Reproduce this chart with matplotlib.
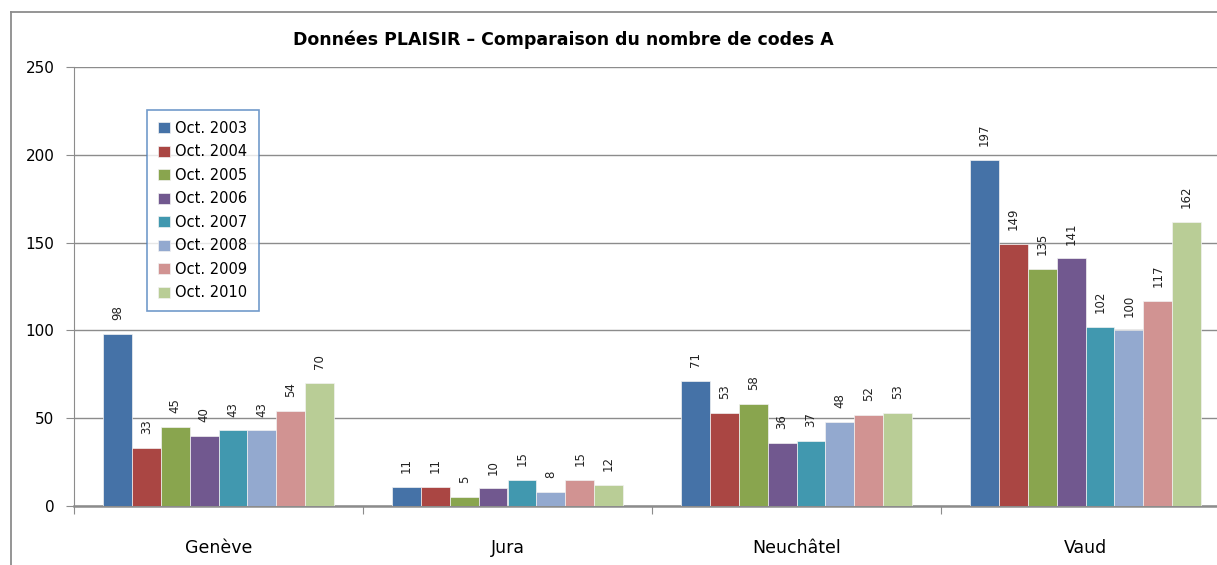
import numpy as np
import matplotlib
matplotlib.use("Agg")
import matplotlib.pyplot as plt
from matplotlib.lines import Line2D

# data
cantons = ["Genève", "Jura", "Neuchâtel", "Vaud"]
years = ["Oct. 2003", "Oct. 2004", "Oct. 2005", "Oct. 2006",
         "Oct. 2007", "Oct. 2008", "Oct. 2009", "Oct. 2010"]
oct_2003 = [98, 11, 71, 197]
oct_2004 = [33, 11, 53, 149]
oct_2005 = [45, 5, 58, 135]
oct_2006 = [40, 10, 36, 141]
oct_2007 = [43, 15, 37, 102]
oct_2008 = [43, 8, 48, 100]
oct_2009 = [54, 15, 52, 117]
oct_2010 = [70, 12, 53, 162]
series = [oct_2003, oct_2004, oct_2005, oct_2006,
          oct_2007, oct_2008, oct_2009, oct_2010]
colors = ["#4572A7", "#AA4643", "#89A54E", "#71588F",
          "#4198AF", "#93A9CF", "#D19392", "#B9CD96"]

W, H = 1217, 565
fig = plt.figure(figsize=(W / 100, H / 100), dpi=100)

# outer chart frame, only top and left visible
fig.add_artist(Line2D([11 / W, 1.0], [(H - 12) / H] * 2, transform=fig.transFigure,
                      color="#8c8c8c", linewidth=1.3))
fig.add_artist(Line2D([11 / W] * 2, [0, (H - 12) / H], transform=fig.transFigure,
                      color="#8c8c8c", linewidth=1.3))

ax = fig.add_axes([74 / W, (H - 506) / H, (1230 - 74) / W, (506 - 67) / H])

x = np.arange(len(cantons))
bw = 0.1
for i, vals in enumerate(series):
    pos = x - 4 * bw + (i + 0.5) * bw
    ax.bar(pos, vals, width=bw, color=colors[i], edgecolor="#f2f2f2",
           linewidth=0.5, label=years[i], zorder=3)
    for p, v in zip(pos, vals):
        ax.annotate(str(v), (p, v), xytext=(0, 10), textcoords="offset points",
                    rotation=90, ha="center", va="bottom", fontsize=8.5,
                    color="#222222")

ax.set_xlim(-0.5, 3.5)
ax.set_ylim(0, 250)
ax.set_yticks(range(0, 251, 50))
ax.tick_params(axis="y", labelsize=11, length=6, color="#8c8c8c", pad=8)
ax.set_xticks(np.arange(-0.5, 3.5, 1.0), minor=False)
ax.set_xticklabels([])
ax.set_xticks(x, minor=True)
ax.set_xticklabels(cantons, minor=True, fontsize=12.5)
ax.tick_params(axis="x", which="major", length=6, color="#8c8c8c", direction="out")
ax.tick_params(axis="x", which="minor", length=0, pad=24)
ax.yaxis.grid(True, color="#8c8c8c", linewidth=1, zorder=0)
ax.set_axisbelow(True)
for s in ["top", "right"]:
    ax.spines[s].set_visible(False)
ax.spines["left"].set_color("#8c8c8c")
ax.spines["bottom"].set_color("#8c8c8c")
ax.spines["bottom"].set_linewidth(1.8)

fig.text(563 / W, (H - 40) / H, "Données PLAISIR – Comparaison du nombre de codes A",
         ha="center", va="center", fontsize=12.5, fontweight="bold")

leg = ax.legend(loc="upper left", bbox_to_anchor=((147 - 74) / (1230 - 74), (506 - 110) / (506 - 67)),
                fontsize=10.5, frameon=True, fancybox=False, handlelength=0.8,
                handleheight=0.8, handletextpad=0.4, labelspacing=0.58,
                borderpad=0.75, borderaxespad=0)
leg.get_frame().set_edgecolor("#4f81bd")
leg.get_frame().set_linewidth(1.2)

plt.savefig("out.png", dpi=100)
